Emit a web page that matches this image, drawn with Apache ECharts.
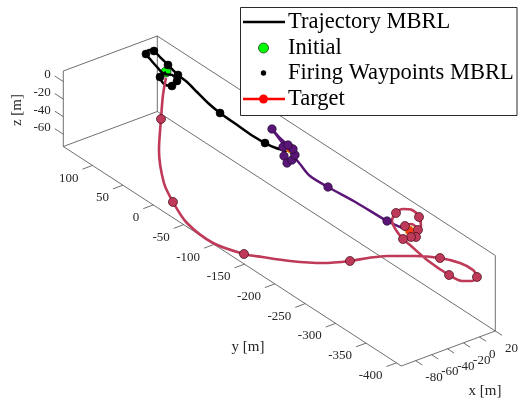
<!DOCTYPE html>
<html>
<head>
<meta charset="utf-8">
<script src="https://cdn.jsdelivr.net/npm/echarts@6/dist/echarts.min.js"></script>
<style>
  html, body { margin: 0; padding: 0; background: #fff; }
  #chart { width: 519px; height: 400px; }
</style>
</head>
<body>
<div id="chart"></div>
<script>
// Axis limits [m]
const xLim = [-98, 20];
const yLim = [-408, 148];
const zLim = [-74, 12];
const xTicks = [-80, -60, -40, -20, 0, 20];
const yTicks = [100, 50, 0, -50, -100, -150, -200, -250, -300, -350, -400];
const zTicks = [0, -20, -40, -60];

// Leg 1: hover loop at the start, then run to the first target
const leg1X = [-4.4, -15.3, -20.7, -16.8, -6.6, -3.2, -8.4, -5.4, -1.1, 1.8, 9.1, 11.9, 9.3, 5.9, 1.5, 0.1, -4.2, -8.9, -11.6, -12.9, -13.6, -12.6, -10.0, -4.9];
const leg1Y = [101.8, 97.3, 83.7, 75.7, 80.7, 93.4, 99.8, 115.2, 132.3, 142.8, 147.4, 142.8, 129.5, 111.9, 89.8, 73.1, 51.0, 26.7, 3.4, -31.1, -53.4, -71.9, -86.5, -97.9];
const leg1Z = [0, 0, 0, 0, 0, 0, 0, 0, 0, 0, 0, 0, 0, 0, 0, 0, 0, 0, 0, 0, 0, 0, 0, 0];
const leg1Fire = [1, 3, 4, 9, 11, 13, 14, 18, 21];

// Leg 2: manoeuvre around target 1, then on to target 2
const leg2X = [-4.9, -3.1, -13.4, -19.6, -11.9, -3.4, 2.4, 3.3, 5.1, 10.2, 2.6, -3.7, -10.5, -17.2, -16.4, -12.9, -11.1, -8.1, -6.6];
const leg2Y = [-97.9, -89.1, -104.2, -117.3, -115.4, -109.2, -98.3, -88.9, -75.0, -53.5, -78.2, -101.3, -126.7, -152.0, -180.5, -223.6, -270.6, -288.0, -299.3];
const leg2Z = [0, 0, 0, 0, 0, 0, 0, 0, 0, 0, 0, 0, 0, 0, 0, 0, 0, 0, 0];
const leg2Fire = [1, 2, 3, 4, 5, 6, 7, 9, 14, 16];

// Leg 3: loop at target 2, swing out and descend on the way back
const leg3X = [-5.8, -2.9, 4.4, 2.6, -7.6, -11.6, -2.3, 7.8, 14.0, 13.8, 6.7, -2.7, -13.6, -19.3, -22.6, -22.2, -23.8, -19.3, -14.2, -6.2, 2.7, 8.1, 8.5, 1.9, -10.2, -27.1, -41.5, -53.1, -68.5, -81.5, -88.2, -90.2, -97.1, -94.4, -81.9, -70.1, -43.2, -22.9, -15.6, -9.6];
const leg3Y = [-299.9, -289.4, -289.8, -303.6, -313.7, -310.7, -305.1, -301.8, -290.4, -279.2, -273.6, -274.4, -282.1, -296.1, -312.0, -323.0, -353.1, -383.4, -398.0, -404.0, -400.5, -386.9, -365.0, -340.7, -315.4, -291.6, -279.2, -264.7, -240.5, -203.3, -166.0, -139.0, -97.1, -50.7, -11.3, 19.0, 62.4, 85.7, 92.0, 95.0];
const leg3Z = [0, 0, 0, 0, 0, 0, 0, 2, 5, 8, 9, 8, 6, 4, 2, 0, -3, -8, -10, -10, -10, -10, -12, -15, -20, -25, -28, -34, -42, -52, -62, -70, -74, -73, -71, -67, -58, -40, -18, -2];
const leg3Fire = [1, 3, 4, 5, 8, 11, 14, 17, 20, 23, 27, 31, 34, 37];

const initialPos = [-4.4, 101.8, 0];
const targetX = [1.2, -5.0];
const targetY = [-94.9, -300.0];
const targetZ = [0, 0];

// Orthographic view: screen offsets covered by the full x, y and z ranges,
// measured from the (xmin, ymax, zmin) corner of the box.
const view = { corner: [63.3, 146.5], xSpan: [94, -35], ySpan: [338, 219.5], zSpan: [0, -75.5] };
function project(x, y, z) {
  const fx = (x - xLim[0]) / (xLim[1] - xLim[0]);
  const fy = (yLim[1] - y) / (yLim[1] - yLim[0]);
  const fz = (z - zLim[0]) / (zLim[1] - zLim[0]);
  return [
    view.corner[0] + fx * view.xSpan[0] + fy * view.ySpan[0] + fz * view.zSpan[0],
    view.corner[1] + fx * view.xSpan[1] + fy * view.ySpan[1] + fz * view.zSpan[1]
  ];
}
const path = (X, Y, Z) => X.map((v, i) => project(v, Y[i], Z[i]));
const pick = (X, Y, Z, idx) => idx.map(i => project(X[i], Y[i], Z[i]));

const serif = "'Liberation Serif', 'Times New Roman', serif";
const textColor = '#262626';
const frameColor = '#4a4a4a';

function renderFrame(params, api) {
  const pt = (x, y, z) => api.coord(project(x, y, z));
  const [x0, x1] = xLim, [y0, y1] = yLim, [z0, z1] = zLim;
  const children = [];
  const seg = (a, b) => children.push({
    type: 'line',
    shape: { x1: a[0], y1: a[1], x2: b[0], y2: b[1] },
    style: { stroke: frameColor, lineWidth: 0.8 }
  });
  const label = (p, text, align, dx, dy) => children.push({
    type: 'text',
    style: { text: text, x: p[0] + dx, y: p[1] + dy, fill: textColor, font: '13px ' + serif, align: align, verticalAlign: 'middle' }
  });
  // back walls of the box
  const edges = [
    [[x0, y1, z0], [x0, y1, z1]], [[x1, y1, z0], [x1, y1, z1]], [[x1, y0, z0], [x1, y0, z1]],
    [[x0, y1, z1], [x1, y1, z1]], [[x0, y1, z0], [x1, y1, z0]],
    [[x1, y1, z1], [x1, y0, z1]], [[x1, y1, z0], [x1, y0, z0]],
    [[x0, y1, z0], [x0, y0, z0]], [[x0, y0, z0], [x1, y0, z0]]
  ];
  edges.forEach(e => seg(pt(...e[0]), pt(...e[1])));
  // y ticks along the front-left floor edge
  yTicks.forEach(t => {
    const a = pt(x0, t, z0), b = pt(x0 - 12.5, t, z0);
    seg(a, b);
    label(b, String(t), 'right', -4, 9);
  });
  // x ticks along the front-right floor edge
  xTicks.forEach(t => {
    const a = pt(t, y0, z0), b = pt(t, y0 - 11, z0);
    seg(a, b);
    label(b, String(t), 'left', 3, 13);
  });
  // z ticks on the left vertical edge
  zTicks.forEach(t => {
    const a = pt(x0, y1, t), b = pt(x0, y1 + 14, t);
    seg(a, b);
    label(b, String(t), 'right', -4, -1);
  });
  return { type: 'group', children: children };
}

const black = '#000000';
const purple = '#5a1677';
const crimson = '#bf3a58';

const chart = echarts.init(document.getElementById('chart'), null, { renderer: 'canvas' });
chart.setOption({
  animation: false,
  backgroundColor: '#ffffff',
  grid: { left: 0, right: 0, top: 0, bottom: 0 },
  xAxis: { type: 'value', min: 0, max: 519, show: false },
  yAxis: { type: 'value', min: 0, max: 400, inverse: true, show: false },
  series: [
    { type: 'custom', name: 'frame', renderItem: renderFrame, data: [[0, 0]], silent: true, clip: false, z: 1 },
    { type: 'scatter', name: 'Initial', data: [project(...initialPos)], symbol: 'circle', symbolSize: 10,
      itemStyle: { color: '#00ff00', borderColor: '#000', borderWidth: 0.6, opacity: 1 }, z: 2 },
    { type: 'line', name: 'Trajectory MBRL', data: path(leg1X, leg1Y, leg1Z), symbol: 'none', smooth: 0.3,
      lineStyle: { color: black, width: 2.5 }, z: 3 },
    { type: 'line', name: 'Leg 2', data: path(leg2X, leg2Y, leg2Z), symbol: 'none', smooth: 0.3,
      lineStyle: { color: purple, width: 2.5 }, z: 3 },
    { type: 'line', name: 'Leg 3', data: path(leg3X, leg3Y, leg3Z), symbol: 'none', smooth: 0.3,
      lineStyle: { color: crimson, width: 2.6 }, z: 3 },
    { type: 'scatter', name: 'Target', data: pick(targetX, targetY, targetZ, [0, 1]), symbol: 'circle', symbolSize: 9,
      itemStyle: { color: '#ff3b1f', borderColor: '#c8a000', borderWidth: 1, opacity: 1 }, z: 4 },
    { type: 'scatter', name: 'Firing Waypoints MBRL', data: pick(leg1X, leg1Y, leg1Z, leg1Fire), symbol: 'circle', symbolSize: 8,
      itemStyle: { color: black, borderColor: '#000', borderWidth: 0.6, opacity: 1 }, z: 5 },
    { type: 'scatter', name: 'Waypoints leg 2', data: pick(leg2X, leg2Y, leg2Z, leg2Fire), symbol: 'circle', symbolSize: 8.5,
      itemStyle: { color: purple, borderColor: '#1a0326', borderWidth: 0.6, opacity: 1 }, z: 5 },
    { type: 'scatter', name: 'Waypoints leg 3', data: pick(leg3X, leg3Y, leg3Z, leg3Fire), symbol: 'circle', symbolSize: 9,
      itemStyle: { color: crimson, borderColor: '#3a0c18', borderWidth: 0.7, opacity: 1 }, z: 5 }
  ],
  graphic: [
    // axis titles
    { type: 'text', x: 248, y: 347, z: 50, style: { text: 'y [m]', font: '15px ' + serif, fill: textColor, align: 'center', verticalAlign: 'middle' } },
    { type: 'text', x: 485, y: 391, z: 50, style: { text: 'x [m]', font: '15px ' + serif, fill: textColor, align: 'center', verticalAlign: 'middle' } },
    { type: 'text', x: 17, y: 110, rotation: Math.PI / 2, z: 50, style: { text: 'z [m]', font: '15px ' + serif, fill: textColor, align: 'center', verticalAlign: 'middle' } },
    // legend
    { type: 'rect', z: 100, shape: { x: 240.5, y: 7.5, width: 276.5, height: 108 }, style: { fill: '#fff', stroke: '#2a2a2a', lineWidth: 1 } },
    { type: 'line', z: 101, shape: { x1: 243, y1: 22, x2: 285, y2: 22 }, style: { stroke: black, lineWidth: 2.6 } },
    { type: 'text', z: 101, x: 288, y: 22, style: { text: 'Trajectory MBRL', font: '22.5px ' + serif, fill: '#000', align: 'left', verticalAlign: 'middle' } },
    { type: 'circle', z: 101, shape: { cx: 263.5, cy: 48, r: 5 }, style: { fill: '#00ff00', stroke: '#000', lineWidth: 0.6 } },
    { type: 'text', z: 101, x: 288, y: 48, style: { text: 'Initial', font: '22.5px ' + serif, fill: '#000', align: 'left', verticalAlign: 'middle' } },
    { type: 'circle', z: 101, shape: { cx: 263.5, cy: 73, r: 2.7 }, style: { fill: '#000' } },
    { type: 'text', z: 101, x: 288, y: 73, style: { text: 'Firing Waypoints MBRL', font: '22.5px ' + serif, fill: '#000', align: 'left', verticalAlign: 'middle' } },
    { type: 'line', z: 101, shape: { x1: 243, y1: 99, x2: 285, y2: 99 }, style: { stroke: '#ff0000', lineWidth: 2.6 } },
    { type: 'circle', z: 102, shape: { cx: 263.5, cy: 99, r: 4.5 }, style: { fill: '#ff0000' } },
    { type: 'text', z: 101, x: 288, y: 99, style: { text: 'Target', font: '22.5px ' + serif, fill: '#000', align: 'left', verticalAlign: 'middle' } }
  ]
});
</script>
</body>
</html>
